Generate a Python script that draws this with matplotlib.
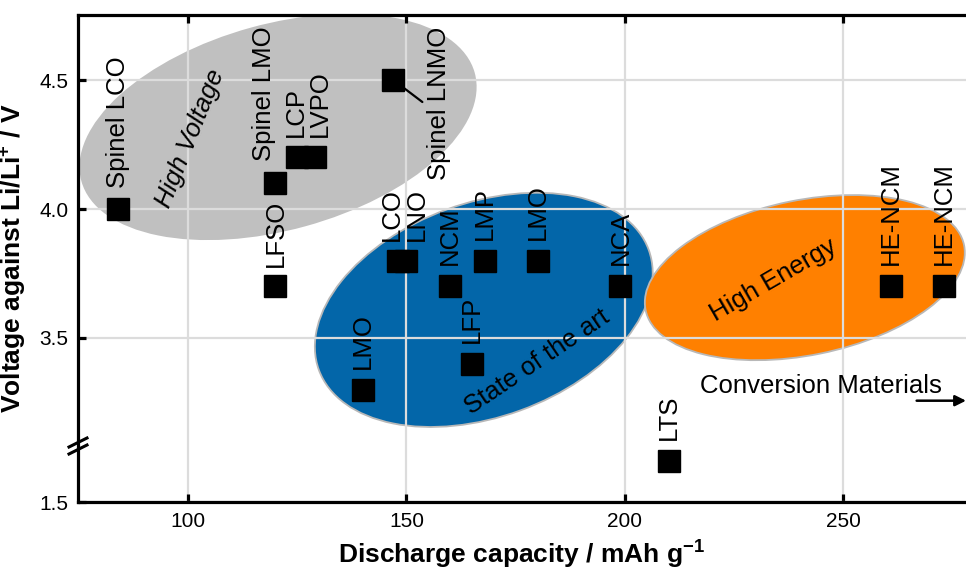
import numpy as np
import matplotlib
matplotlib.use("Agg")
import matplotlib.pyplot as plt
from matplotlib.patches import Ellipse
from matplotlib.transforms import ScaledTranslation
from matplotlib.lines import Line2D

plt.rcParams['font.family'] = ['Liberation Sans', 'DejaVu Sans']
plt.rcParams['mathtext.fontset'] = 'custom'
plt.rcParams['mathtext.rm'] = 'Liberation Sans'
plt.rcParams['mathtext.it'] = 'Liberation Sans:italic'
plt.rcParams['mathtext.bf'] = 'Liberation Sans:bold'

# ---------------- data ----------------
materials = ["Spinel LCO", "Spinel LMO", "LFSO", "LCP", "LVPO", "Spinel LNMO",
             "LCO", "LNO", "NCM", "LMP", "LMO", "NCA", "LFP", "LMO", "LTS",
             "HE-NCM", "HE-NCM"]
capacity = [84, 120, 120, 125, 129, 147, 148, 150, 160, 168, 180, 199, 165, 140, 210, 261, 273]
voltage = [4.0, 4.1, 3.7, 4.2, 4.2, 4.5, 3.8, 3.8, 3.7, 3.8, 3.8, 3.7, 3.4, 3.3, 1.55, 3.7, 3.7]

x_ticks = [100, 150, 200, 250]
y_ticks = [1.5, 3.5, 4.0, 4.5]
y_tick_labels = ["1.5", "3.5", "4.0", "4.5"]

# label offsets in pixels (dx, dy from marker centre to label bottom-centre)
label_offsets_px = {0: (0, 21), 1: (-11, 22), 2: (0, 19), 3: (-1, 20), 4: (5, 20),
                    6: (-6, 20), 7: (10, 20)}
default_offset_px = (0, 21)

# ---------------- broken y scale ----------------
K = 820.0 / 258.0
LOW_TOP = 1.568
F0 = 2.8643
F_LOW_TOP = F0 + (LOW_TOP - 1.5) * K
UP_BOT = 3.09


def fwd(v):
    v = np.asarray(v, dtype=float)
    low = F0 + (v - 1.5) * K
    mid = F_LOW_TOP + (v - LOW_TOP) * (UP_BOT - F_LOW_TOP) / (UP_BOT - LOW_TOP)
    return np.where(v <= LOW_TOP, low, np.where(v < UP_BOT, mid, v))


def inv(f):
    f = np.asarray(f, dtype=float)
    low = 1.5 + (f - F0) / K
    mid = LOW_TOP + (f - F_LOW_TOP) * (UP_BOT - LOW_TOP) / (UP_BOT - F_LOW_TOP)
    return np.where(f <= F_LOW_TOP, low, np.where(f < UP_BOT, mid, f))


DPI = 100
fig = plt.figure(figsize=(9.66, 5.70), dpi=DPI)
ax = fig.add_axes([78 / 966, 1 - 502 / 570, 1 - 78 / 966, 487 / 570])
ax.set_yscale('function', functions=(fwd, inv))
ax.set_xlim(74.8, 278.1)
ax.set_ylim(1.5, 4.752)

# ---------------- background ellipses ----------------
def add_ellipse(cx, cy, w_in, h_in, angle, fc, ec, lw):
    tr = fig.dpi_scale_trans + ScaledTranslation(cx, cy, ax.transData)
    e = Ellipse((0, 0), w_in, h_in, angle=angle, facecolor=fc, edgecolor=ec,
                linewidth=lw, transform=tr, zorder=0.6)
    ax.add_patch(e)

add_ellipse(120.6, 4.318, 4.08, 2.06, 15.4, '#c0c0c0', 'none', 0)
add_ellipse(167.7, 3.609, 3.51, 2.14, 20, '#0366a9', '#b8b8b8', 1.3)
add_ellipse(241.2, 3.734, 3.25, 1.55, 11.5, '#ff8000', '#b8b8b8', 1.3)

# ---------------- grid, spines, ticks ----------------
ax.grid(True, color='#dcdcdc', linewidth=1.6, zorder=1)
ax.set_axisbelow('line')
for s in ['top', 'left', 'bottom']:
    ax.spines[s].set_linewidth(2.3)
ax.spines['right'].set_visible(False)
ax.set_xticks(x_ticks)
ax.set_xticklabels([str(t) for t in x_ticks])
ax.set_yticks(y_ticks)
ax.set_yticklabels(y_tick_labels)
ax.yaxis.set_minor_locator(matplotlib.ticker.NullLocator())
ax.tick_params(direction='in', length=6, width=2.3, top=True, right=False,
               labelsize=15, pad=7)

# axis break marks
ybreak = (502 - 446) / 487
for dy in (-0.035, 0.035):
    tr = fig.dpi_scale_trans + ScaledTranslation(0, ybreak, ax.transAxes)
    ln = Line2D([-0.09, 0.09], [dy - 0.045, dy + 0.045], transform=tr,
                color='black', linewidth=2.2, clip_on=False, zorder=5)
    ax.add_line(ln)

# ---------------- markers ----------------
ax.plot(capacity, voltage, linestyle='none', marker='s', markersize=16,
        color='black', zorder=4)

pt = 72.0 / DPI
for i, (name, x, y) in enumerate(zip(materials, capacity, voltage)):
    if i == 5:
        continue
    dx, dy = label_offsets_px.get(i, default_offset_px)
    ax.annotate(name, (x, y), xytext=(dx * pt, dy * pt), textcoords='offset points',
                rotation=90, ha='center', va='bottom', fontsize=18.5, zorder=5)

# Spinel LNMO label with leader line
i = 5
ax.annotate(materials[i], (capacity[i], voltage[i]), xytext=(46 * pt, -23 * pt),
            textcoords='offset points', rotation=90, ha='center', va='center',
            fontsize=18.5, zorder=5)
ax.annotate('', (capacity[i], voltage[i]), xytext=(29 * pt, -22 * pt),
            textcoords='offset points',
            arrowprops=dict(arrowstyle='-', lw=1.6, color='black',
                            shrinkA=0, shrinkB=0),
            zorder=5)

# ---------------- region texts ----------------
ax.text(100.5, 4.275, "High Voltage", rotation=68, style='italic', fontsize=18.5,
        ha='center', va='center', rotation_mode='anchor', zorder=5)
ax.text(179.9, 3.407, "State of the art", rotation=34, fontsize=18.5,
        ha='center', va='center', rotation_mode='anchor', zorder=5)
ax.text(233.9, 3.725, "High Energy", rotation=30, fontsize=18.5,
        ha='center', va='center', rotation_mode='anchor', zorder=5)
ax.text(244.9, 3.314, "Conversion Materials", fontsize=18.5,
        ha='center', va='center', zorder=5)
ax.annotate('', xy=(278.1, 3.257), xytext=(266.8, 3.257),
            arrowprops=dict(arrowstyle='-|>', lw=1.8, color='black',
                            mutation_scale=16, shrinkA=0, shrinkB=0),
            annotation_clip=False, zorder=5)

# ---------------- axis labels ----------------
ax.set_xlabel(r"Discharge capacity / mAh g$^{\mathbf{-1}}$", fontsize=19,
              fontweight='bold', labelpad=6)
ax.set_ylabel(r"Voltage against Li/Li$^{\mathbf{+}}$ / V", fontsize=19,
              fontweight='bold', labelpad=8)

fig.savefig("out.png", dpi=DPI)
